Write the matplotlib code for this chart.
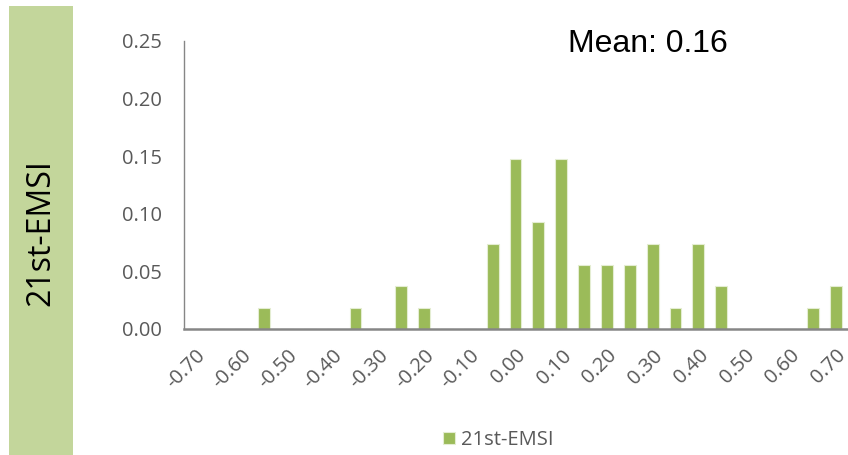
import matplotlib
matplotlib.use('Agg')
import matplotlib.pyplot as plt
import matplotlib.patches as patches
import numpy as np

# histogram bins (centre of each 0.05 bin) and relative frequency
bins = ["-0.70", "-0.65", "-0.60", "-0.55", "-0.50", "-0.45", "-0.40", "-0.35",
        "-0.30", "-0.25", "-0.20", "-0.15", "-0.10", "-0.05", "0.00", "0.05",
        "0.10", "0.15", "0.20", "0.25", "0.30", "0.35", "0.40", "0.45",
        "0.50", "0.55", "0.60", "0.65", "0.70"]
freq = [0, 0, 0, 0.0185, 0, 0, 0, 0.0185,
        0, 0.037, 0.0185, 0, 0, 0.074, 0.148, 0.0926,
        0.148, 0.0556, 0.0556, 0.0556, 0.074, 0.0185, 0.074, 0.037,
        0, 0, 0, 0.0185, 0.037]
series_name = "21st-EMSI"
mean_label = "Mean: 0.16"
yticks = [0.00, 0.05, 0.10, 0.15, 0.20, 0.25]

BAR = "#9BBB59"
PANEL = "#C3D69B"
GREY = "#595959"
TICKFONT = "Open Sans"

fig = plt.figure(figsize=(8.48, 4.55), dpi=100)
fig.patch.set_facecolor("white")

# side panel carrying the series name
fig.patches.append(patches.Rectangle((9 / 848, 0), 64 / 848, 449 / 455,
                                     transform=fig.transFigure, facecolor=PANEL,
                                     edgecolor="none", zorder=0))
fig.text(41 / 848, 1 - 233 / 455, series_name, rotation=90, ha="center", va="center",
         fontsize=23, family=TICKFONT, color="black")

ax = fig.add_axes([184 / 848, 1 - 329 / 455, 663 / 848, 288 / 455])
x = np.arange(len(bins))
bars = ax.bar(x, freq, width=0.52, color=BAR, edgecolor="#E4EDD2", linewidth=0.8,
              label=series_name, zorder=2)

ax.set_xlim(-0.5, len(bins) - 0.5)
ax.set_ylim(0, 0.25)
ax.set_yticks(yticks)
ax.set_yticklabels(["%.2f" % v for v in yticks], family=TICKFONT, fontsize=14.5, color=GREY)
ax.set_xticks(x[::2])
ax.set_xticklabels(bins[::2], rotation=45, ha="right", rotation_mode="anchor",
                   family=TICKFONT, fontsize=14.5, color=GREY)
ax.tick_params(axis="both", length=0)
ax.tick_params(axis="y", pad=16)
ax.tick_params(axis="x", pad=12)

for s in ["top", "right"]:
    ax.spines[s].set_visible(False)
ax.spines["left"].set_color("#868686")
ax.spines["left"].set_linewidth(1.0)
ax.spines["bottom"].set_color("#868686")
ax.spines["bottom"].set_linewidth(1.8)
ax.spines["left"].set_zorder(1)

ax.text(0.70, 0.99, mean_label, transform=ax.transAxes, ha="center", va="center",
        fontsize=23, family="Liberation Sans", color="black")

fig.legend(handles=[bars], labels=[series_name], loc="center",
           bbox_to_anchor=(498 / 848, 1 - 440 / 455), frameon=False,
           handlelength=0.6, handleheight=0.6, handletextpad=0.3,
           prop={"family": TICKFONT, "size": 14.5}, labelcolor=GREY)

fig.savefig("out.png", dpi=100)
